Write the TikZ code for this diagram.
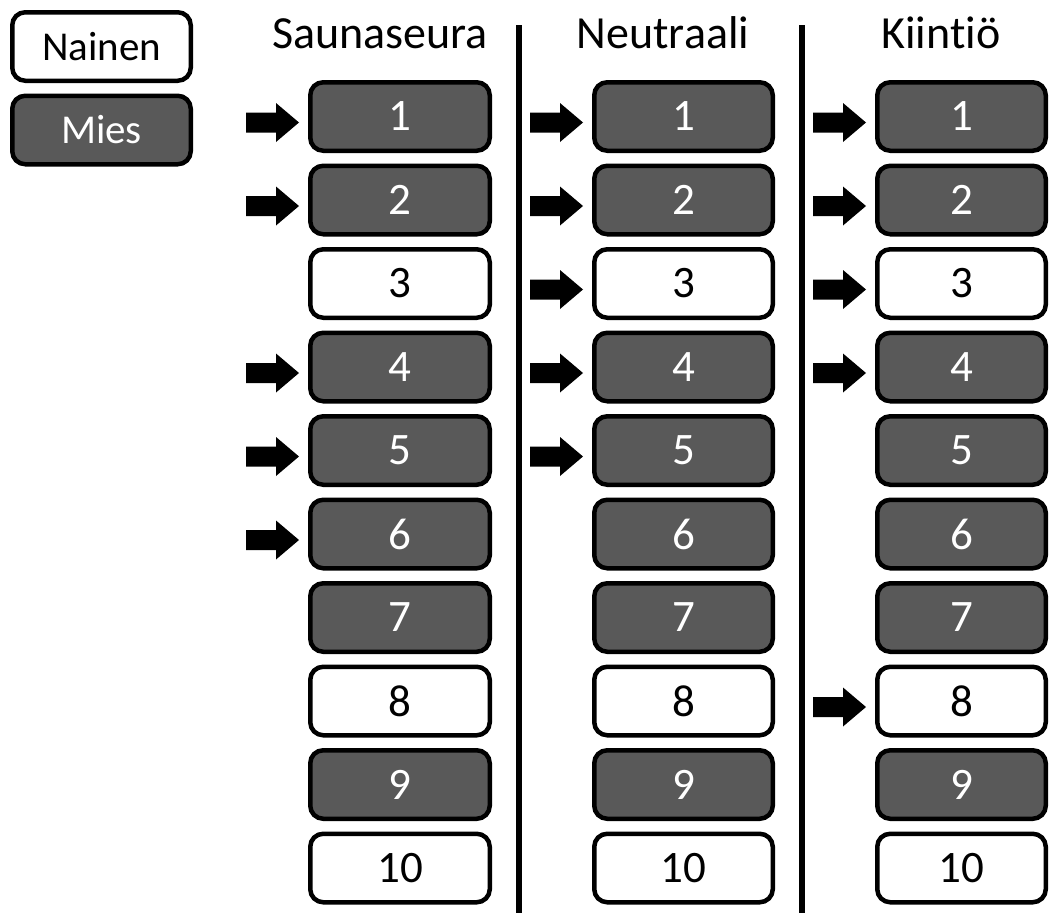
\documentclass[tikz,border=0pt]{standalone}
\usepackage{fontspec}
\setmainfont{Carlito}[Ligatures=NoCommon]
\definecolor{dark}{HTML}{595959}
\tikzset{
  slot/.style={draw=black, line width=4.5pt, rounded corners=13pt, minimum height=68.5pt, inner sep=0pt, font=\fontsize{45}{45}\selectfont},
  man/.style={slot, fill=dark, text=white},
  woman/.style={slot, fill=white, text=black},
  title/.style={font=\fontsize{46}{46}\selectfont, anchor=base, inner sep=0pt},
  legend/.style={minimum width=178.5pt, font=\fontsize{41}{41}\selectfont},
  divider/.style={line width=6pt},
  pointer/.style={fill=black},
}
\newcommand{\pointto}[1]{\fill[pointer] ([xshift=-9pt,yshift=-6pt]#1.west) -- ++(-23pt,19.5pt) -- ++(0pt,-9.5pt) -- ++(-30pt,0pt) -- ++(0pt,-20pt) -- ++(30pt,0pt) -- ++(0pt,-9.5pt) -- cycle;}
\begin{document}
\begin{tikzpicture}[x=1pt,y=-1pt]
\useasboundingbox (0,0) rectangle (1049,913);
% legend
\node[woman, legend] (nainen) at (101.5,46.5) {Nainen};
\node[man, legend] (mies) at (101.5,130) {Mies};
% titles
\node[title] (t1) at (380,48) {Saunaseura};
\node[title] (t2) at (663,48) {Neutraali};
\node[title] (t3) at (941,48) {Kiintiö};
% dividers
\coordinate (d1top) at (519,25);
\coordinate (d1bot) at (519,913);
\coordinate (d2top) at (802,25);
\coordinate (d2bot) at (802,913);
\draw[divider] (d1top) -- (d1bot);
\draw[divider] (d2top) -- (d2bot);
% boxes
\foreach \c/\cx/\w in {a/400/179.5, b/683.5/178.5, c/961.5/168.5} {
  \foreach \i/\k in {1/man,2/man,3/woman,4/man,5/man,6/man,7/man,8/woman,9/man,10/woman} {
    \node[\k, minimum width=\w pt] (\c\i) at (\cx, {116.5+83.5*(\i-1)}) {\i};
  }
}
% arrows
\foreach \n in {a1,a2,a4,a5,a6,b1,b2,b3,b4,b5,c1,c2,c3,c4,c8} {\pointto{\n}}
\end{tikzpicture}
\end{document}
